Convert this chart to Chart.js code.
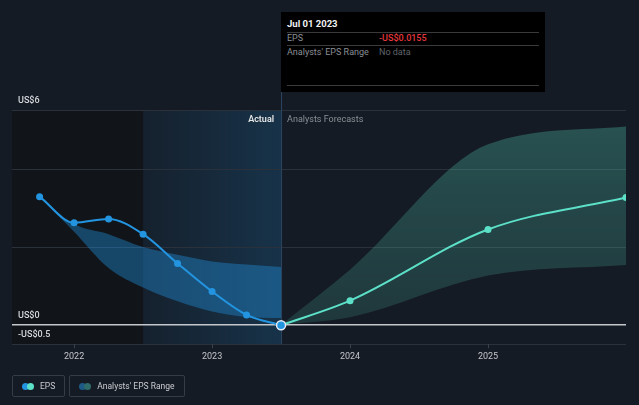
<!DOCTYPE html>
<html lang="en">

<head>
  <meta charset="UTF-8">
  <title>EPS vs Analysts' EPS Range</title>
  <script src="https://cdn.jsdelivr.net/npm/chart.js"></script>
  <style>
    body {
      margin: 0;
      background-color: #151b24;
      font-family: Roboto, "Noto Sans", sans-serif;
    }

    .chart-container {
      position: relative;
      width: 639px;
      height: 405px;
    }

    /* caixa fixa do tooltip no topo */
    .info-box {
      position: absolute;
      left: 281px;
      top: 12px;
      width: 264px;
      height: 80px;
      background: #000;
      font-size: 9px;
      line-height: 12px;
      color: #8a8f96;
    }

    .info-box .title {
      position: absolute;
      left: 6px;
      top: 6px;
      color: #f2f2f2;
      font-weight: 700;
      font-size: 9.5px;
    }

    .info-box .sep {
      position: absolute;
      left: 6px;
      width: 252px;
      height: 1px;
      background: #3a3a3a;
    }

    .info-box .row {
      position: absolute;
      left: 6px;
    }

    .info-box .val {
      position: absolute;
      left: 98px;
    }

    .legend {
      position: absolute;
      top: 375px;
      left: 12px;
      display: flex;
      gap: 4px;
    }

    .legend-item {
      height: 20px;
      border: 1px solid #353c46;
      border-radius: 2px;
      display: flex;
      align-items: center;
      padding: 0 9px 0 9px;
      font-size: 8.5px;
      color: #c9ccd1;
    }

    .dots {
      position: relative;
      width: 12px;
      height: 7px;
      margin-right: 6px;
    }

    .dots span {
      position: absolute;
      top: 0;
      width: 7px;
      height: 7px;
      border-radius: 50%;
    }
  </style>
</head>

<body>
  <div class="chart-container">
    <canvas id="epsChart"></canvas>

    <div class="info-box">
      <div class="title">Jul 01 2023</div>
      <div class="sep" style="top:20px"></div>
      <div class="row" style="top:20px">EPS</div>
      <div class="val" style="top:20px;color:#e5373c;font-weight:500">-US$0.0155</div>
      <div class="sep" style="top:33px"></div>
      <div class="row" style="top:34px">Analysts' EPS Range</div>
      <div class="val" style="top:34px;color:#5f646b">No data</div>
      <div class="sep" style="top:73px"></div>
    </div>

    <div class="legend">
      <div class="legend-item">
        <div class="dots"><span style="left:0;background:#2394e0"></span><span style="left:5px;background:#5ce0c8"></span></div>EPS
      </div>
      <div class="legend-item">
        <div class="dots"><span style="left:0;background:#1d5a86"></span><span style="left:5px;background:#2f6b68"></span></div>Analysts' EPS Range
      </div>
    </div>
  </div>

  <script>
    // EPS real (trimestral)
    const epsDates = [2021.75, 2022.0, 2022.25, 2022.5, 2022.75, 2023.0, 2023.25, 2023.5];
    const epsValues = [3.28, 2.61, 2.71, 2.32, 1.57, 0.85, 0.25, -0.0155];

    // faixa das estimativas passadas
    const pastRangeDates = [2021.75, 2022.0, 2022.25, 2022.5, 2022.75, 2023.0, 2023.25, 2023.5];
    const pastRangeHigh = [3.28, 2.58, 2.32, 1.99, 1.79, 1.62, 1.54, 1.48];
    const pastRangeLow = [3.28, 2.38, 1.45, 0.95, 0.6, 0.34, 0.2, 0.17];

    // previsões dos analistas
    const forecastDates = [2023.5, 2024.0, 2025.0, 2026.0];
    const forecastValues = [-0.0155, 0.615, 2.44, 3.26];
    const forecastHigh = [0, 1.41, 4.62, 5.08];
    const forecastLow = [0, 0.19, 1.26, 1.53];

    const xTickValues = [2022, 2023, 2024, 2025];
    const yTickValues = [-0.5, 0, 2, 4, 5.5];
    const yTickLabels = ['-US$0.5', 'US$0', '', '', 'US$6'];

    const xMin = 2021.55;
    const xMax = 2026.0;
    const nowDate = 2023.5;
    const pastStart = 2022.5;

    const toPoints = (xs, ys) => xs.map((x, i) => ({ x: x, y: ys[i] }));

    // fundo das regiões, linhas de grade, linha do "agora" e rótulos
    const regionsPlugin = {
      id: 'regions',
      beforeDraw(chart) {
        const { ctx, chartArea, scales } = chart;
        const x = scales.x;
        const y = scales.y;
        const xLeft = x.getPixelForValue(xMin);
        const xRight = x.getPixelForValue(xMax);
        const xPast = x.getPixelForValue(pastStart);
        const xNow = x.getPixelForValue(nowDate);
        ctx.save();
        ctx.fillStyle = '#111519';
        ctx.fillRect(xLeft, chartArea.top, xPast - xLeft, chartArea.bottom - chartArea.top);
        const grad = ctx.createLinearGradient(xPast, 0, xNow, 0);
        grad.addColorStop(0, 'rgba(35,148,224,0.05)');
        grad.addColorStop(1, 'rgba(35,148,224,0.2)');
        ctx.fillStyle = grad;
        ctx.fillRect(xPast, chartArea.top, xNow - xPast, chartArea.bottom - chartArea.top);

        yTickValues.forEach(v => {
          if (v === 0) return;
          const py = Math.round(y.getPixelForValue(v)) + 0.5;
          ctx.strokeStyle = '#2a313b';
          ctx.lineWidth = 1;
          ctx.beginPath();
          ctx.moveTo(xLeft, py);
          ctx.lineTo(xRight, py);
          ctx.stroke();
        });
        ctx.restore();
      },
      beforeDatasetsDraw(chart) {
        const { ctx, chartArea, scales } = chart;
        const x = scales.x;
        const xLeft = x.getPixelForValue(xMin);
        const xRight = x.getPixelForValue(xMax);
        const xNow = x.getPixelForValue(nowDate);
        const y0 = scales.y.getPixelForValue(0);
        ctx.save();
        // linha do zero
        ctx.strokeStyle = '#c4c7cb';
        ctx.lineWidth = 1.5;
        ctx.beginPath();
        ctx.moveTo(xLeft, y0);
        ctx.lineTo(xRight, y0);
        ctx.stroke();

        ctx.strokeStyle = '#2a4663';
        ctx.lineWidth = 1;
        ctx.beginPath();
        ctx.moveTo(xNow + 0.5, 92);
        ctx.lineTo(xNow + 0.5, chartArea.bottom);
        ctx.stroke();

        ctx.font = '600 9px Roboto';
        ctx.textBaseline = 'middle';
        ctx.textAlign = 'right';
        ctx.fillStyle = '#e6e6e6';
        ctx.fillText('Actual', xNow - 7, chartArea.top + 10);
        ctx.font = '9px Roboto';
        ctx.textAlign = 'left';
        ctx.fillStyle = '#8a8f96';
        ctx.fillText('Analysts Forecasts', xNow + 6, chartArea.top + 10);
        ctx.restore();
      }
    };

    const ctx = document.getElementById('epsChart').getContext('2d');
    const epsChart = new Chart(ctx, {
      type: 'line',
      data: {
        datasets: [
          {
            // faixa passada (topo)
            data: toPoints(pastRangeDates, pastRangeHigh),
            borderWidth: 0,
            pointRadius: 0,
            fill: '+1',
            backgroundColor: 'rgba(33,140,215,0.42)',
            cubicInterpolationMode: 'monotone',
            order: 3
          },
          {
            data: toPoints(pastRangeDates, pastRangeLow),
            borderWidth: 0,
            pointRadius: 0,
            fill: false,
            cubicInterpolationMode: 'monotone',
            order: 3
          },
          {
            // faixa prevista (topo)
            data: toPoints(forecastDates, forecastHigh),
            borderWidth: 0,
            pointRadius: 0,
            fill: '+1',
            backgroundColor: (c) => {
              const area = c.chart.chartArea;
              if (!area) return 'rgba(88,214,192,0.25)';
              const g = c.chart.ctx.createLinearGradient(0, area.top, 0, area.bottom);
              g.addColorStop(0, 'rgba(88,214,192,0.3)');
              g.addColorStop(1, 'rgba(88,214,192,0.14)');
              return g;
            },
            cubicInterpolationMode: 'monotone',
            order: 3
          },
          {
            data: toPoints(forecastDates, forecastLow),
            borderWidth: 0,
            pointRadius: 0,
            fill: false,
            cubicInterpolationMode: 'monotone',
            order: 3
          },
          {
            label: 'Forecast',
            data: toPoints(forecastDates, forecastValues),
            borderColor: '#5ce0c8',
            backgroundColor: '#5ce0c8',
            borderWidth: 2,
            pointRadius: [0, 3.5, 3.5, 3.5],
            pointBorderWidth: 0,
            fill: false,
            cubicInterpolationMode: 'monotone',
            order: 2
          },
          {
            label: 'EPS',
            data: toPoints(epsDates, epsValues),
            borderColor: '#2394e0',
            backgroundColor: '#2394e0',
            borderWidth: 2,
            pointRadius: [3.5, 3.5, 3.5, 3.5, 3.5, 3.5, 3.5, 4.5],
            pointBorderColor: ['#2394e0', '#2394e0', '#2394e0', '#2394e0', '#2394e0', '#2394e0', '#2394e0', '#e8eef4'],
            pointBorderWidth: [0, 0, 0, 0, 0, 0, 0, 1.5],
            fill: false,
            cubicInterpolationMode: 'monotone',
            order: 1
          }
        ]
      },
      options: {
        animation: false,
        responsive: true,
        maintainAspectRatio: false,
        layout: {
          padding: { left: 12, right: 13, top: 110, bottom: 40 }
        },
        plugins: {
          legend: { display: false },
          tooltip: { enabled: false }
        },
        events: [],
        scales: {
          x: {
            type: 'linear',
            min: xMin,
            max: xMax,
            afterBuildTicks: (scale) => {
              scale.ticks = xTickValues.map(v => ({ value: v }));
            },
            ticks: {
              color: '#c4c7cc',
              font: { family: 'Roboto', size: 9 },
              padding: 3,
              maxRotation: 0,
              callback: (v) => String(v)
            },
            grid: {
              drawOnChartArea: false,
              drawTicks: true,
              tickLength: 4,
              color: '#3a414b'
            },
            border: { display: false }
          },
          y: {
            type: 'linear',
            min: -0.5,
            max: 5.5,
            afterBuildTicks: (scale) => {
              scale.ticks = yTickValues.map(v => ({ value: v }));
            },
            afterFit: (scale) => {
              scale.width = 0;
            },
            ticks: {
              mirror: true,
              padding: 6,
              labelOffset: -9,
              color: '#d6d8dc',
              font: { family: 'Roboto', size: 9, weight: '500' },
              callback: (v) => {
                const i = yTickValues.indexOf(v);
                return i >= 0 ? yTickLabels[i] : '';
              }
            },
            grid: { display: false },
            border: { display: false }
          }
        }
      },
      plugins: [regionsPlugin]
    });
  </script>
</body>

</html>
